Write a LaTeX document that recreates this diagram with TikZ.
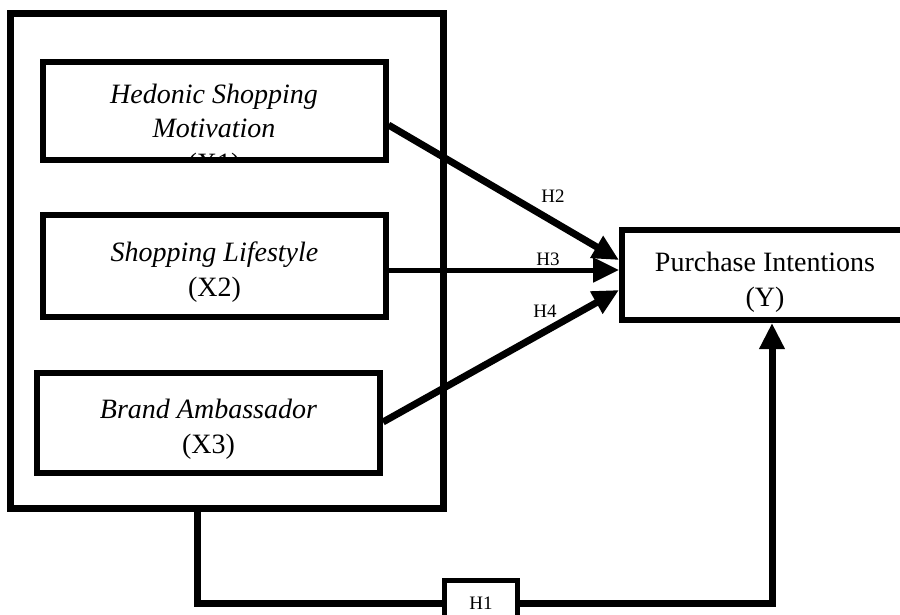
\documentclass[tikz,border=0pt]{standalone}
\usepackage{fontspec}
\setmainfont{Liberation Serif}
\usetikzlibrary{arrows.meta, positioning}

\begin{document}
\begin{tikzpicture}[
            x=1pt, y=-1pt,
            every node/.style={font=\fontsize{28}{35}\selectfont, align=center},
            varbox/.style={draw, line width=6pt, minimum width=343pt, inner sep=0pt},
            hlabel/.style={font=\fontsize{19}{22}\selectfont},
            path/.style={line width=7pt, -{Triangle[length=26pt,width=24pt]}}
        ]

        \useasboundingbox (0,0) rectangle (900,614);

        \node[draw, line width=7pt, minimum width=433pt, minimum height=495pt] (frame) at (226.5,260.5) {};

        \node[varbox, minimum height=98pt] (hsm) at (214,111) {\itshape Hedonic Shopping\\[-1pt]\itshape Motivation};
        \begin{scope}
            \clip (46,65) rectangle (382,157);
            \node (x1) at (214,166) {(X1)};
        \end{scope}
        \node[varbox, minimum height=102pt] (sl) at (214.5,266) {\rule{0pt}{31pt}\itshape Shopping Lifestyle\\(X2)};
        \node[varbox, minimum height=100pt] (ba) at (208.5,423) {\rule{0pt}{31pt}\itshape Brand Ambassador\\(X3)};

        \node[draw, line width=6pt, minimum width=286pt, minimum height=90pt] (pi) at (765,275) {\rule{0pt}{33pt}Purchase Intentions\\(Y)};

        \draw[path] ([yshift=-14pt]hsm.east) -- ([yshift=15pt]pi.west);
        \draw[path, line width=5pt] ([yshift=-4pt]sl.east) -- ([yshift=5pt]pi.west);
        \draw[path] ([yshift=1pt]ba.east) -- ([yshift=-15pt]pi.west);

        \node[hlabel] (h2) at (553,196) {H2};
        \node[hlabel] (h3) at (548,259) {H3};
        \node[hlabel] (h4) at (545,311) {H4};

        \coordinate (turnL) at (197,603);
        \coordinate (turnR) at (772,603);
        \draw[path] (frame.south -| turnL) -- (turnL) -- (turnR) -- (pi.south -| turnR);

        \node[draw, fill=white, line width=5pt, minimum width=73pt, minimum height=46pt, hlabel] (h1) at (481,603) {H1};

    \end{tikzpicture}
\end{document}
